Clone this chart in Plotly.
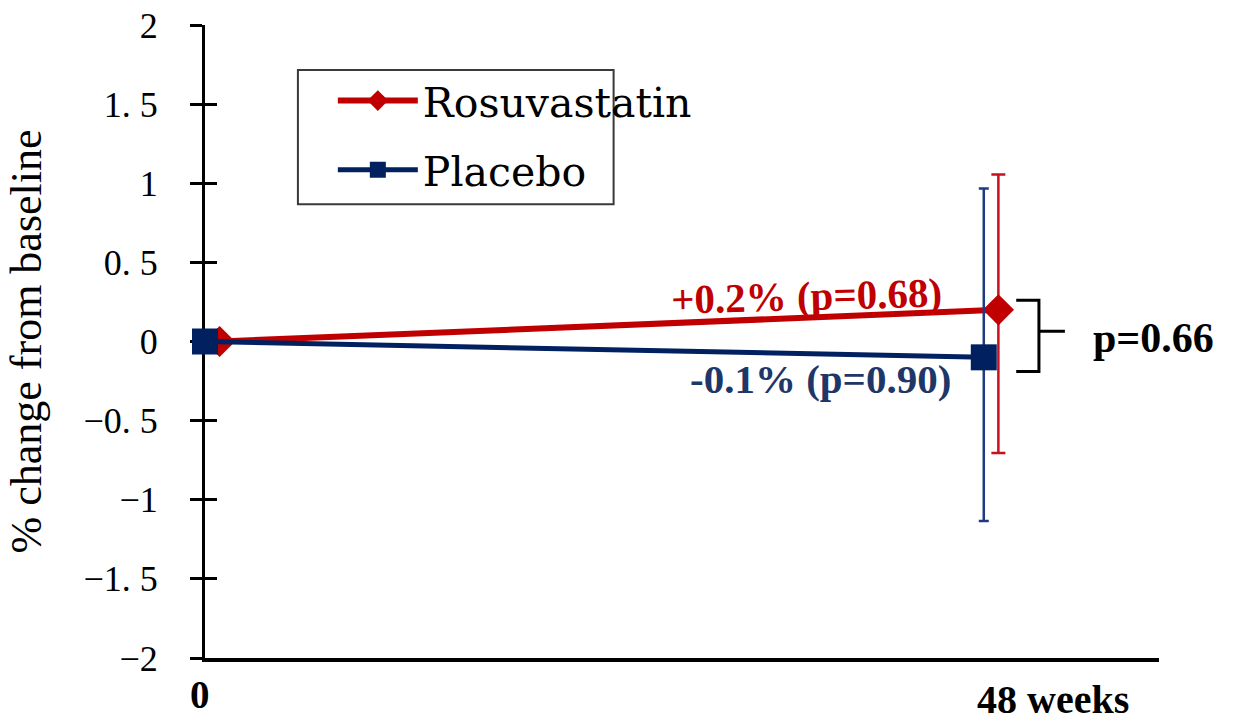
import plotly.graph_objects as go

# Time points (weeks) and group results
weeks = [0, 48]
week_labels = ["0", "48 weeks"]

rosu_change = [0.0, 0.2]
rosu_upper = [None, 1.055]
rosu_lower = [None, -0.705]

placebo_change = [0.0, -0.1]
placebo_upper = [None, 0.967]
placebo_lower = [None, -1.135]

ytick_vals = [-2, -1.5, -1, -0.5, 0, 0.5, 1, 1.5, 2]
ytick_text = ["\u22122", "\u22121. 5", "\u22121", "\u22120. 5", "0", "0. 5", "1", "1. 5", "2"]

RED = "#C00000"
RED_BAR = "#C8101E"
NAVY = "#002060"
NAVY_BAR = "#1F3A80"
NAVY_TEXT = "#1F3768"

DODGE = 0.9  # horizontal offset of the rosuvastatin series (weeks)


def err_plus(vals, upper):
    return [None if u is None else u - v for v, u in zip(vals, upper)]


def err_minus(vals, lower):
    return [None if lo is None else v - lo for v, lo in zip(vals, lower)]


fig = go.Figure()

fig.add_trace(go.Scatter(
    x=[w + DODGE for w in weeks], y=rosu_change,
    mode="lines+markers", name="Rosuvastatin", legendgroup="r",
    line=dict(color=RED, width=6),
    marker=dict(symbol="diamond", size=24, color=RED),
    error_y=dict(type="data", symmetric=False,
                 array=err_plus(rosu_change, rosu_upper),
                 arrayminus=err_minus(rosu_change, rosu_lower),
                 color=RED_BAR, thickness=2.5, width=7),
    cliponaxis=False,
))

fig.add_trace(go.Scatter(
    x=weeks, y=placebo_change,
    mode="lines+markers", name="Placebo", legendgroup="p",
    line=dict(color=NAVY, width=5),
    marker=dict(symbol="square", size=26, color=NAVY),
    error_y=dict(type="data", symmetric=False,
                 array=err_plus(placebo_change, placebo_upper),
                 arrayminus=err_minus(placebo_change, placebo_lower),
                 color=NAVY_BAR, thickness=2.5, width=5),
    cliponaxis=False,
))

# second y axis carries the inner half of the crossing tick marks
fig.add_trace(go.Scatter(x=[None], y=[None], yaxis="y2", showlegend=False,
                         hoverinfo="skip"))

serif = "'Liberation Serif', 'Times New Roman', Times, serif"
deja = "'DejaVu Serif', serif"

annotations = [
    dict(text="% change from baseline", xref="paper", yref="paper",
         x=-0.183, y=0.5, xshift=-30, textangle=-90, showarrow=False,
         font=dict(family=serif, size=44, color="black")),
    dict(text="<b>+0.2% (p=0.68)</b>", xref="x", yref="y",
         x=45.6, y=0.285, xanchor="right", yanchor="middle", textangle=-1.5,
         showarrow=False, font=dict(family=serif, size=41, color=RED)),
    dict(text="<b>-0.1% (p=0.90)</b>", xref="x", yref="y",
         x=46.1, y=-0.235, xanchor="right", yanchor="middle",
         showarrow=False, font=dict(family=serif, size=41, color=NAVY_TEXT)),
    dict(text="<b>p=0.66</b>", xref="x", yref="y",
         x=54.6, y=0.025, xanchor="left", yanchor="middle",
         showarrow=False, font=dict(family=serif, size=42, color="black")),
    dict(text="<b>" + week_labels[0] + "</b>", xref="x", yref="paper",
         x=weeks[0], y=-0.057, xanchor="center", yanchor="middle", xshift=-5,
         showarrow=False, font=dict(family=serif, size=39, color="black")),
    dict(text="<b>" + week_labels[1] + "</b>", xref="x", yref="paper",
         x=weeks[1], y=-0.066, xanchor="left", yanchor="middle", xshift=-9,
         showarrow=False, font=dict(family=serif, size=40, color="black")),
]

# bracket linking the two 48-week estimates
bx0, bx1, bx2 = 50.0, 51.4, 53.0
by_top = rosu_change[1] + 0.06
by_bot = placebo_change[1] - 0.09
by_mid = (by_top + by_bot) / 2 + 0.03
bracket = (f"M {bx0},{by_top} L {bx1},{by_top} L {bx1},{by_bot} L {bx0},{by_bot} "
           f"M {bx1},{by_mid} L {bx2},{by_mid}")

shapes = [
    dict(type="path", path=bracket, xref="x", yref="y",
         line=dict(color="black", width=3)),
    # legend frame
    dict(type="rect", xref="paper", yref="paper",
         x0=0.0974, x1=0.4283, y0=0.717, y1=0.929,
         line=dict(color="#3A3A3A", width=2), fillcolor="rgba(0,0,0,0)",
         layer="below"),
]

fig.update_layout(
    width=1236, height=723,
    margin=dict(l=205, r=77, t=25, b=65, autoexpand=False),
    paper_bgcolor="white", plot_bgcolor="white",
    showlegend=True,
    legend=dict(x=0.134, y=0.933, xanchor="left", yanchor="top",
                bgcolor="rgba(0,0,0,0)", borderwidth=0,
                font=dict(family=deja, size=41, color="black"),
                traceorder="grouped", tracegroupgap=13, itemwidth=80),
    xaxis=dict(range=[0, 58.8], showline=True, linecolor="black", linewidth=4,
               showticklabels=False, ticks="", showgrid=False, zeroline=False,
               automargin=False, fixedrange=True),
    yaxis=dict(range=[-2, 2], tickvals=ytick_vals, ticktext=ytick_text,
               showline=True, linecolor="black", linewidth=3,
               ticks="outside", ticklen=12, tickwidth=3, tickcolor="black",
               ticklabelstandoff=25, automargin=False,
               tickfont=dict(family=serif, size=36, color="black"),
               showgrid=False, zeroline=False, layer="below traces"),
    yaxis2=dict(range=[-2, 2], overlaying="y", side="left", anchor="x",
                tickvals=ytick_vals, ticks="inside", ticklen=12, tickwidth=3,
                tickcolor="black", showticklabels=False, showline=False,
                showgrid=False, zeroline=False, automargin=False,
                layer="below traces"),
    annotations=annotations,
    shapes=shapes,
)

fig.write_html("out.html")
